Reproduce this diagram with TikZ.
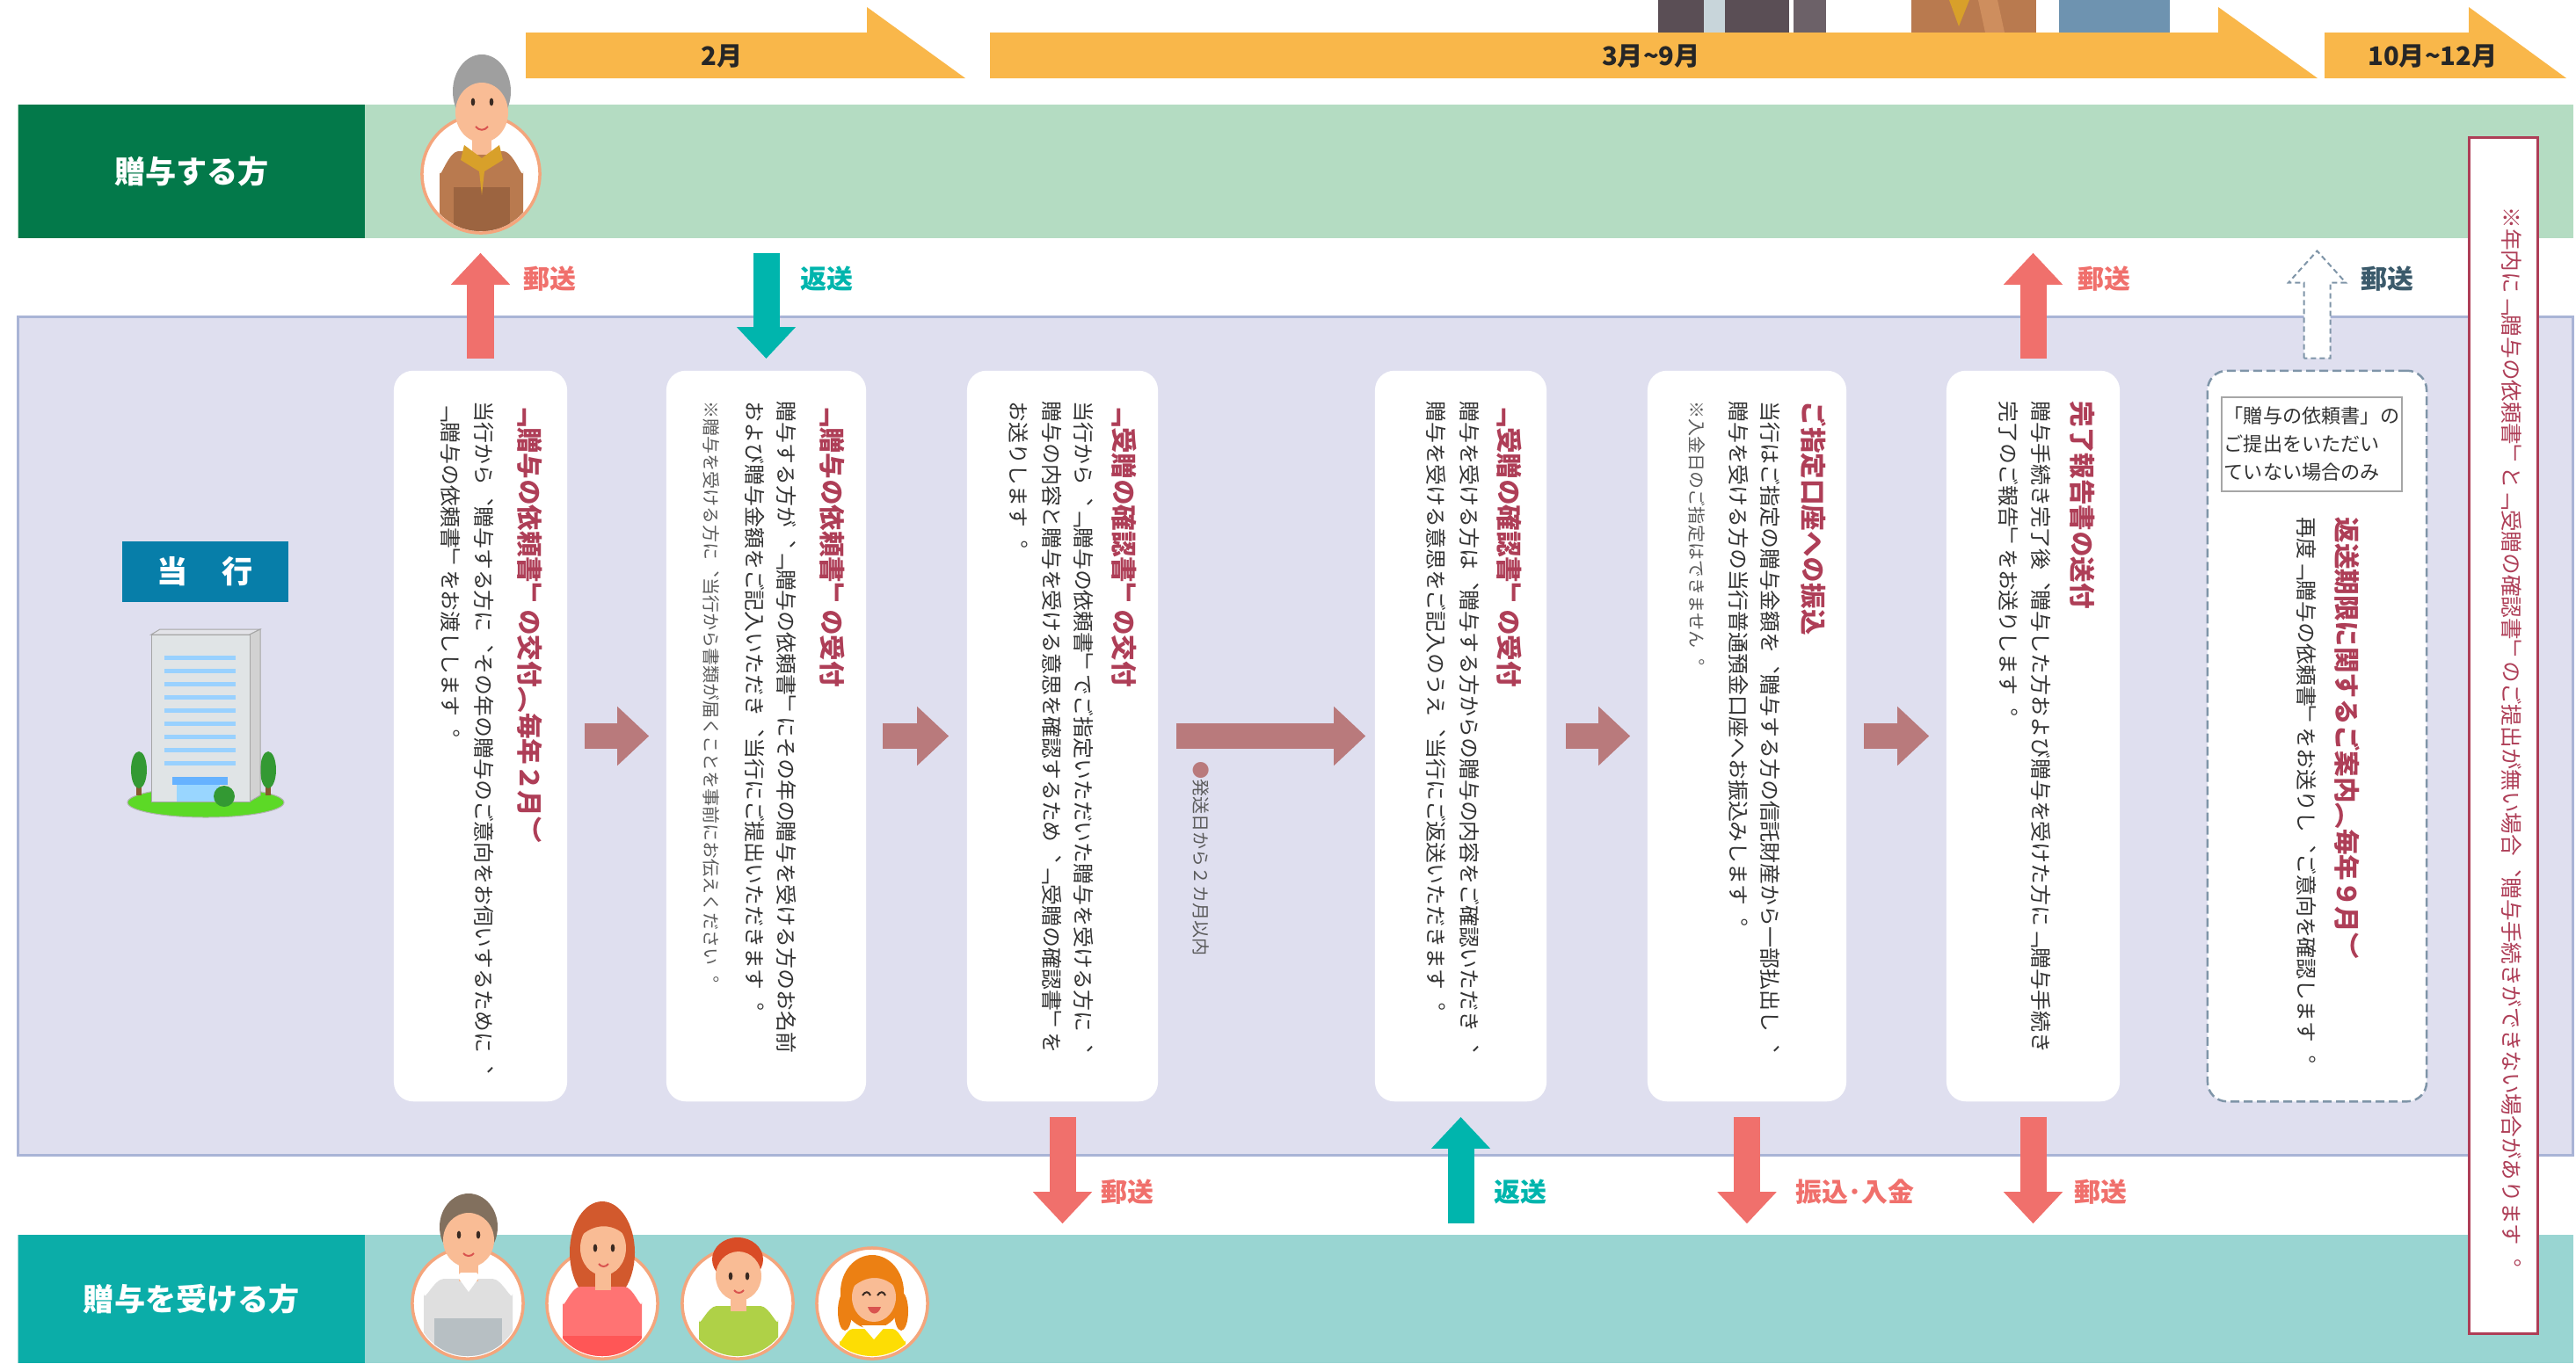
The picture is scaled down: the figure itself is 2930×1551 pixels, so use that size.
\documentclass[tikz,border=0pt]{standalone}
\usepackage{fontspec}
\setmainfont{Noto Sans CJK JP}
\newfontfamily\tate[Vertical=RotatedGlyphs]{Noto Sans CJK JP}
\usetikzlibrary{arrows.meta, positioning, calc}

\definecolor{gdark}{HTML}{03794A}
\definecolor{glight}{HTML}{B4DCC2}
\definecolor{tdark}{HTML}{0BADA8}
\definecolor{tlight}{HTML}{99D5D2}
\definecolor{lav}{HTML}{DFDFEF}
\definecolor{lavline}{HTML}{A9B4D6}
\definecolor{monthc}{HTML}{F9B74A}
\definecolor{bankc}{HTML}{077EA9}
\definecolor{flowc}{HTML}{B97A7C}
\definecolor{postc}{HTML}{F0706C}
\definecolor{backc}{HTML}{00B5AD}
\definecolor{ttlred}{HTML}{AE3E57}
\definecolor{txt}{HTML}{333333}
\definecolor{notec}{HTML}{5A5A5A}
\definecolor{dashc}{HTML}{7F95A8}
\definecolor{slate}{HTML}{3B5A6B}
\definecolor{ringc}{HTML}{F4A57C}
\definecolor{skin}{HTML}{F9BC95}
\definecolor{eyec}{HTML}{3A2A22}
\definecolor{mouthc}{HTML}{D9534F}
\definecolor{jacket}{HTML}{B97A4F}
\definecolor{jacketdk}{HTML}{9C6440}
\definecolor{collar}{HTML}{D8A02A}
\definecolor{suit}{HTML}{5A4E55}
\definecolor{suitlt}{HTML}{6C6168}
\definecolor{shirtlt}{HTML}{C8D5DA}
\definecolor{suitbl}{HTML}{6E93B0}
\definecolor{suitbr}{HTML}{CE8E5E}

\tikzset{band/.style={rectangle, inner sep=0pt, minimum width=29.05cm},
         bandlbl/.style={rectangle, inner sep=0pt, minimum width=3.94cm, text=white, font=\bfseries\fontsize{10}{12}\selectfont},
         mlbl/.style={inner sep=0pt, text=black!85, font=\bfseries\fontsize{8.3}{10}\selectfont},
         card/.style={rectangle, fill=white, rounded corners=0.22cm, minimum height=8.31cm, inner sep=0pt},
         flow/.style={line width=0.29cm, draw=flowc, -{Triangle[length=0.36cm, width=0.65cm]}},
         mail/.style={line width=0.30cm, draw=postc, -{Triangle[length=0.36cm, width=0.65cm]}},
         ret/.style={line width=0.30cm, draw=backc, -{Triangle[length=0.36cm, width=0.65cm]}},
         albl/.style={anchor=west, inner sep=0pt, font=\bfseries\fontsize{8.5}{10}\selectfont},
         vcol/.style={rotate=-90, anchor=west, inner sep=0pt, text height=0.5em, text depth=0.5em},
         vttl/.style={vcol, text=ttlred, font=\tate\bfseries\fontsize{8.4}{10}\selectfont},
         vbody/.style={vcol, text=txt, font=\tate\fontsize{6.8}{10}\selectfont},
         vnote/.style={vcol, text=notec, font=\tate\fontsize{5.7}{8}\selectfont},
         ring/.style={circle, draw=ringc, fill=white, line width=0.035cm, minimum size=#1, inner sep=0pt},
        }

\begin{document}
\begin{tikzpicture}[x=0.01cm, y=-0.01cm]
    \useasboundingbox (0,0) rectangle (2930,1551);

    % people standing behind the timeline
    \fill[suit] (1886,0) rectangle (2035,37);
    \fill[shirtlt] (1938,0) rectangle (1962,37);
    \fill[suitlt] (2040,0) rectangle (2077,37);
    \fill[jacket] (2174,0) rectangle (2316,37);
    \fill[collar] (2217,0) -- (2240,0) -- (2228,30) -- cycle;
    \fill[suitbr] (2250,0) -- (2272,0) -- (2280,37) -- (2258,37) -- cycle;
    \fill[suitbl] (2342,0) rectangle (2468,37);

    % timeline
    \fill[monthc] (598,37) -- (986,37) -- (986,8) -- (1098,89) -- (598,89) -- cycle;
    \fill[monthc] (1126,37) -- (2523,37) -- (2523,8) -- (2636,89) -- (1126,89) -- cycle;
    \fill[monthc] (2644,37) -- (2808,37) -- (2808,8) -- (2919,89) -- (2644,89) -- cycle;
    \node[mlbl] (m1) at (821,64) {2月};
    \node[mlbl] (m2) at (1878,64) {3月{\char"7E}9月};
    \node[mlbl] (m3) at (2767,64) {10月{\char"7E}12月};

    % bands
    \node[band, fill=glight, minimum height=1.52cm] (gband) at (1473.5,195) {};
    \node[bandlbl, fill=gdark, minimum height=1.52cm] (glbl) at (218,195) {贈与する方};
    \node[band, fill=lav, draw=lavline, line width=0.03cm, minimum height=9.53cm] (bband) at (1473.5,837.5) {};
    \node[band, fill=tlight, minimum height=1.46cm] (rband) at (1473.5,1478) {};
    \node[bandlbl, fill=tdark, minimum height=1.46cm] (rlbl) at (218,1478) {贈与を受ける方};

    % bank
    \node[fill=bankc, text=white, minimum width=1.89cm, minimum height=0.69cm, inner sep=0pt,
          font=\bfseries\fontsize{10}{12}\selectfont] (bank) at (233.5,650.5) {当\hspace{1.1em}行};
    \fill[green!60!lime!70!gray, draw=gray!60, line width=0.01cm] (234,913) ellipse [x radius=89, y radius=17];
    \fill[brown!70!black] (155,885) rectangle (161,905);
    \fill[green!50!black!80] (158,876) ellipse [x radius=9, y radius=21];
    \fill[brown!70!black] (302,885) rectangle (308,905);
    \fill[green!50!black!80] (305,876) ellipse [x radius=9, y radius=21];
    \filldraw[fill=blue!8!gray!20, draw=gray!70, line width=0.01cm] (172,722) -- (182,716) -- (296,716) -- (284,722) -- cycle;
    \filldraw[fill=gray!35, draw=gray!70, line width=0.01cm] (284,722) -- (296,716) -- (296,905) -- (284,912) -- cycle;
    \filldraw[fill=cyan!10!gray!25, draw=gray!70, line width=0.01cm] (172,722) rectangle (284,912);
    \foreach \wy in {748,763,...,868}
        \fill[blue!45!cyan!40] (187,\wy-2.5) rectangle (268,\wy+2.5);
    \fill[blue!50!cyan!60] (196,884) rectangle (259,893);
    \fill[blue!40!cyan!40] (201,893) rectangle (250,912);
    \fill[green!50!black!80] (255,906) circle [radius=12];

    % giver
    \node[ring=1.34cm] (giver) at (547,198) {};
    \begin{scope}
        \clip (547,198) circle [radius=65];
        \fill[jacket] (500,272) -- (500,195) to[out=-90,in=180] (522,172) -- (572,172) to[out=0,in=-90] (595,195) -- (595,272) -- cycle;
        \fill[jacketdk] (516,213) rectangle (580,272);
    \end{scope}
    \fill[skin] (537,148) rectangle (559,176);
    \fill[collar] (528,165) -- (548,180) -- (568,165) -- (572,182) -- (551,195) -- (548,222) -- (545,195) -- (524,182) -- cycle;
    \fill[gray!75] (548,104) ellipse [x radius=33, y radius=42];
    \fill[skin] (548,128) ellipse [x radius=30, y radius=34];
    \fill[eyec] (538,116) ellipse [x radius=2.3, y radius=4.5];
    \fill[eyec] (559,116) ellipse [x radius=2.3, y radius=4.5];
    \draw[mouthc, line width=0.02cm] (541,144) .. controls (545,149) and (551,149) .. (555,144);

    % receivers
    \node[ring=1.26cm] (r1) at (532,1483) {};
    \node[ring=1.26cm] (r2) at (685,1483) {};
    \node[ring=1.26cm] (r3) at (839,1483) {};
    \node[ring=1.26cm] (r4) at (992,1483) {};
    \begin{scope}
        \clip (532,1483) circle [radius=60];
        \fill[gray!25] (482,1560) -- (482,1472) to[out=-90,in=180] (505,1455) -- (560,1455) to[out=0,in=-90] (583,1472) -- (583,1560) -- cycle;
        \fill[gray!45!cyan!20!gray!60] (494,1500) rectangle (571,1560);
    \end{scope}
    \fill[skin] (522,1425) rectangle (544,1458);
    \fill[white] (520,1452) -- (533,1470) -- (546,1452) -- (542,1448) -- (524,1448) -- cycle;
    \fill[brown!40!black!70] (533,1396) ellipse [x radius=33, y radius=38];
    \fill[skin] (533,1411) ellipse [x radius=29, y radius=31];
    \fill[eyec] (522,1405) ellipse [x radius=2.3, y radius=4.5];
    \fill[eyec] (544,1405) ellipse [x radius=2.3, y radius=4.5];
    \draw[mouthc, line width=0.02cm] (527,1426) .. controls (530,1430) and (536,1430) .. (539,1426);

    \fill[brown!70!red] (685,1425) ellipse [x radius=37, y radius=58];
    \begin{scope}
        \clip (685,1483) circle [radius=60];
        \fill[red!40!pink] (640,1560) -- (640,1482) to[out=-90,in=180] (660,1464) -- (710,1464) to[out=0,in=-90] (730,1482) -- (730,1560) -- cycle;
        \fill[red!55!pink] (640,1520) rectangle (730,1560);
    \end{scope}
    \fill[skin] (677,1440) rectangle (695,1468);
    \fill[skin] (686,1420) ellipse [x radius=26, y radius=31];
    \fill[brown!70!red] (659,1408) .. controls (664,1372) and (708,1372) .. (713,1408) .. controls (700,1392) and (676,1390) .. (659,1408) -- cycle;
    \fill[eyec] (677,1420) ellipse [x radius=2.3, y radius=4.5];
    \fill[eyec] (697,1420) ellipse [x radius=2.3, y radius=4.5];
    \draw[mouthc, line width=0.02cm] (681,1438) .. controls (684,1442) and (689,1442) .. (692,1438);

    \begin{scope}
        \clip (839,1483) circle [radius=60];
        \fill[green!25!yellow!60!gray!90] (795,1560) -- (795,1502) to[out=-90,in=180] (815,1486) -- (865,1486) to[out=0,in=-90] (885,1502) -- (885,1560) -- cycle;
    \end{scope}
    \fill[skin] (831,1466) rectangle (849,1492);
    \fill[brown!60!red] (839,1433) ellipse [x radius=29, y radius=25];
    \fill[skin] (840,1452) ellipse [x radius=26, y radius=28];
    \fill[eyec] (831,1452) ellipse [x radius=2.3, y radius=4.5];
    \fill[eyec] (850,1452) ellipse [x radius=2.3, y radius=4.5];
    \draw[mouthc, line width=0.02cm] (835,1468) .. controls (838,1472) and (843,1472) .. (846,1468);

    \fill[orange!70!brown] (992,1470) ellipse [x radius=36, y radius=42];
    \fill[orange!70!brown] (961,1492) ellipse [x radius=8, y radius=22];
    \fill[orange!70!brown] (1025,1492) ellipse [x radius=8, y radius=22];
    \begin{scope}
        \clip (992,1483) circle [radius=60];
        \fill[yellow!80!orange] (955,1560) -- (955,1525) to[out=-90,in=180] (970,1512) -- (1015,1512) to[out=0,in=-90] (1030,1525) -- (1030,1560) -- cycle;
    \end{scope}
    \fill[white] (980,1508) -- (994,1524) -- (1008,1508) -- cycle;
    \fill[skin] (994,1476) ellipse [x radius=25, y radius=28];
    \fill[orange!70!brown] (968,1466) .. controls (972,1432) and (1016,1432) .. (1020,1466) .. controls (1005,1450) and (985,1450) .. (968,1466) -- cycle;
    \draw[eyec, line width=0.02cm] (981,1474) .. controls (984,1469) and (988,1469) .. (990,1474);
    \draw[eyec, line width=0.02cm] (998,1474) .. controls (1001,1469) and (1005,1469) .. (1007,1474);
    \fill[mouthc] (987,1487) .. controls (990,1497) and (999,1497) .. (1002,1487) -- cycle;

    % steps
    \node[card, minimum width=1.97cm] (c1) at (546.5,837.5) {};
    \node[card, minimum width=2.27cm] (c2) at (871.5,837.5) {};
    \node[card, minimum width=2.17cm] (c3) at (1208.5,837.5) {};
    \node[card, minimum width=1.95cm] (c4) at (1661.5,837.5) {};
    \node[card, minimum width=2.26cm] (c5) at (1987,837.5) {};
    \node[card, minimum width=1.97cm] (c6) at (2312.5,837.5) {};
    \node[card, minimum width=2.49cm, draw=dashc, line width=0.025cm, dash pattern=on 0.1cm off 0.05cm] (c7) at (2635.5,837.5) {};

    \draw[flow, shorten <=0.19cm, shorten >=0.19cm] (c1) -- (c2);
    \draw[flow, shorten <=0.18cm, shorten >=0.2cm] (c2) -- (c3);
    \draw[flow, shorten <=0.2cm, shorten >=0.1cm] (c3) -- (c4);
    \draw[flow, shorten <=0.21cm, shorten >=0.19cm] (c4) -- (c5);
    \draw[flow, shorten <=0.19cm, shorten >=0.19cm] (c5) -- (c6);

    \draw[mail, shorten <=0.13cm, shorten >=0.16cm] (c1.north) -- (c1.north |- gband.south);
    \draw[ret, shorten <=0.16cm, shorten >=0.13cm] (c2.north |- gband.south) -- (c2.north);
    \draw[mail, shorten <=0.13cm, shorten >=0.16cm] (c6.north) -- (c6.north |- gband.south);
    \draw[dashc, fill=white, line width=0.02cm, dash pattern=on 0.06cm off 0.04cm]
        (c7.north) ++(-15,-13) -- ++(0,-86) -- ++(-17.5,0) -- ++(32.5,-36) -- ++(32.5,36) -- ++(-17.5,0) -- ++(0,86) -- cycle;
    \draw[mail, shorten <=0.17cm, shorten >=0.12cm] (c3.south) -- (c3.south |- rband.north);
    \draw[ret, shorten <=0.12cm, shorten >=0.17cm] (c4.south |- rband.north) -- (c4.south);
    \draw[mail, shorten <=0.17cm, shorten >=0.12cm] (c5.south) -- (c5.south |- rband.north);
    \draw[mail, shorten <=0.17cm, shorten >=0.12cm] (c6.south) -- (c6.south |- rband.north);

    \node[albl, text=postc] (l1) at (595,317) {郵送};
    \node[albl, text=backc] (l2) at (910,317) {返送};
    \node[albl, text=postc] (l3) at (2363,317) {郵送};
    \node[albl, text=slate] (l4) at (2685,317) {郵送};
    \node[albl, text=postc] (l5) at (1252,1356) {郵送};
    \node[albl, text=backc] (l6) at (1699,1356) {返送};
    \node[albl, text=postc] (l7) at (2042,1356) {振込･入金};
    \node[albl, text=postc] (l8) at (2359,1356) {郵送};

    % step texts (vertical forms for the punctuation)
    \node[vttl] (t1) at (591,456) {﹁贈与の依頼書﹂の交付︵毎年２月︶};
    \node[vbody] (b1a) at (541,456) {当行から︑贈与する方に︑その年の贈与のご意向をお伺いするために︑};
    \node[vbody] (b1b) at (503,456) {﹁贈与の依頼書﹂をお渡しします︒};

    \node[vttl] (t2) at (935,456) {﹁贈与の依頼書﹂の受付};
    \node[vbody] (b2a) at (885,456) {贈与する方が︑﹁贈与の依頼書﹂にその年の贈与を受ける方のお名前};
    \node[vbody] (b2b) at (849,456) {および贈与金額をご記入いただき︑当行にご提出いただきます︒};
    \node[vnote] (n2) at (801,456) {※贈与を受ける方に︑当行から書類が届くことを事前にお伝えください︒};

    \node[vttl] (t3) at (1267,456) {﹁受贈の確認書﹂の交付};
    \node[vbody] (b3a) at (1223,456) {当行から︑﹁贈与の依頼書﹂でご指定いただいた贈与を受ける方に︑};
    \node[vbody] (b3b) at (1187,456) {贈与の内容と贈与を受ける意思を確認するため︑﹁受贈の確認書﹂を};
    \node[vbody] (b3c) at (1149,456) {お送りします︒};

    \node[vnote] (n3) at (1358,866) {{\color{flowc}●}発送日から２カ月以内};

    \node[vttl] (t4) at (1705,456) {﹁受贈の確認書﹂の受付};
    \node[vbody] (b4a) at (1662,456) {贈与を受ける方は︑贈与する方からの贈与の内容をご確認いただき︑};
    \node[vbody] (b4b) at (1624,456) {贈与を受ける意思をご記入のうえ︑当行にご返送いただきます︒};

    \node[vttl] (t5) at (2051,456) {ご指定口座への振込};
    \node[vbody] (b5a) at (2004,456) {当行はご指定の贈与金額を︑贈与する方の信託財産から一部払出し︑};
    \node[vbody] (b5b) at (1968,456) {贈与を受ける方の当行普通預金口座へお振込みします︒};
    \node[vnote] (n5) at (1922,456) {※入金日のご指定はできません︒};

    \node[vttl] (t6) at (2357,456) {完了報告書の送付};
    \node[vbody] (b6a) at (2312,456) {贈与手続き完了後︑贈与した方および贈与を受けた方に﹁贈与手続き};
    \node[vbody] (b6b) at (2275,456) {完了のご報告﹂をお送りします︒};

    \node[draw=gray!70, fill=white, line width=0.02cm, minimum width=2.05cm, minimum height=1.07cm, inner sep=0pt,
          align=left, text=txt, font=\fontsize{6.3}{9.1}\selectfont] (cond) at (2629.5,505.5)
          {「贈与の依頼書」の\\ご提出をいただい\\ていない場合のみ};
    \node[vttl] (t7) at (2658,588) {返送期限に関するご案内︵毎年９月︶};
    \node[vbody] (b7) at (2614,588) {再度﹁贈与の依頼書﹂をお送りし︑ご意向を確認します︒};

    % remark
    \node[draw=ttlred, fill=white, line width=0.03cm, minimum width=0.78cm, minimum height=13.6cm] (warn) at (2847,837) {};
    \node[vcol, text=ttlred, font=\tate\fontsize{7}{9}\selectfont] (w1) at (2847,235)
          {※年内に﹁贈与の依頼書﹂と﹁受贈の確認書﹂のご提出が無い場合︑贈与手続きができない場合があります︒};
\end{tikzpicture}
\end{document}
